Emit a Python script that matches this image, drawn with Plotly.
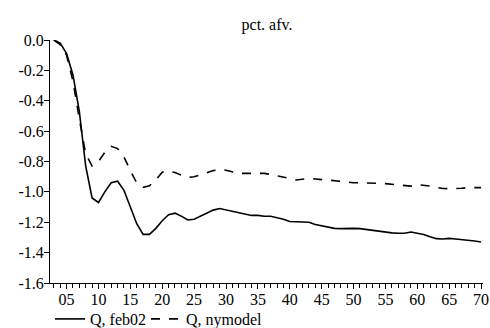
import plotly.graph_objects as go

periods = list(range(3, 71))
q_feb02 = [0.0, -0.02, -0.09, -0.23, -0.47, -0.83, -1.04, -1.07, -1.0, -0.94,
           -0.93, -0.99, -1.1, -1.21, -1.28, -1.28, -1.24, -1.19, -1.15, -1.14,
           -1.16, -1.185, -1.18, -1.16, -1.14, -1.12, -1.11, -1.12, -1.13, -1.14,
           -1.145, -1.155, -1.155, -1.16, -1.16, -1.17, -1.18, -1.195, -1.198, -1.198,
           -1.2, -1.215, -1.225, -1.232, -1.24, -1.242, -1.24, -1.24, -1.242, -1.248,
           -1.253, -1.262, -1.268, -1.27, -1.272, -1.272, -1.264, -1.272, -1.28, -1.295,
           -1.308, -1.31, -1.306, -1.31, -1.313, -1.318, -1.323, -1.33]
q_nymodel = [0.0, -0.03, -0.1, -0.27, -0.52, -0.75, -0.83, -0.8, -0.74, -0.70,
             -0.715, -0.77, -0.86, -0.94, -0.97, -0.96, -0.92, -0.87, -0.863, -0.873,
             -0.89, -0.905, -0.9, -0.89, -0.875, -0.86, -0.852, -0.858, -0.868, -0.878,
             -0.878, -0.878, -0.878, -0.878, -0.885, -0.893, -0.9, -0.912, -0.922, -0.915,
             -0.911, -0.915, -0.918, -0.922, -0.926, -0.93, -0.935, -0.94, -0.94, -0.94,
             -0.942, -0.944, -0.946, -0.95, -0.952, -0.958, -0.962, -0.952, -0.955, -0.962,
             -0.97, -0.978, -0.979, -0.979, -0.976, -0.972, -0.972, -0.972]
x_tickvals = [5, 10, 15, 20, 25, 30, 35, 40, 45, 50, 55, 60, 65, 70]
x_ticktext = ["05", "10", "15", "20", "25", "30", "35", "40", "45", "50", "55", "60", "65", "70"]
y_tickvals = [0.0, -0.2, -0.4, -0.6, -0.8, -1.0, -1.2, -1.4, -1.6]
y_ticktext = ["0.0", "-0.2", "-0.4", "-0.6", "-0.8", "-1.0", "-1.2", "-1.4", "-1.6"]

FAM = "Liberation Serif"
font = dict(family=FAM, size=16, color="#000")

fig = go.Figure()
fig.add_trace(go.Scatter(x=periods, y=q_feb02, mode="lines", name="Q, feb02",
                         line=dict(color="#000", width=1.6), cliponaxis=False,
                         legend="legend"))
fig.add_trace(go.Scatter(x=periods, y=q_nymodel, mode="lines", name="Q, nymodel",
                         line=dict(color="#000", width=1.6, dash="dash"), cliponaxis=False,
                         legend="legend2"))

plot_h = 328 - 40 - 45
leg_y = -(302 - 283) / plot_h
leg_common = dict(orientation="h", xanchor="left", y=leg_y, yanchor="top",
                  font=dict(family=FAM, size=16, color="#000"),
                  itemwidth=30, bgcolor="rgba(0,0,0,0)")
fig.update_layout(
    width=490, height=328,
    margin=dict(l=50, r=7, t=40, b=45, autoexpand=False),
    paper_bgcolor="white", plot_bgcolor="white",
    font=font,
    title=dict(text="pct. afv.", x=267/490, xanchor="center", y=1 - 24/328, yanchor="middle",
               font=dict(family=FAM, size=16, color="#000")),
    showlegend=True,
    legend=dict(x=0, **leg_common),
    legend2=dict(x=96 / 433, **leg_common),
)
fig.update_xaxes(range=[2.4, 70.3], showgrid=False, zeroline=False,
                 showline=True, linecolor="#000", linewidth=1,
                 tickmode="array", tickvals=x_tickvals, ticktext=x_ticktext,
                 ticks="outside", ticklen=5, tickcolor="#000", tickwidth=1,
                 ticklabelstandoff=-3,
                 minor=dict(dtick=1, tick0=0, ticks="outside", ticklen=4, tickcolor="#000", tickwidth=1),
                 tickfont=font)
fig.update_yaxes(range=[-1.6, 0.0], showgrid=False, zeroline=False,
                 showline=True, linecolor="#000", linewidth=1,
                 tickmode="array", tickvals=y_tickvals, ticktext=y_ticktext,
                 ticks="outside", ticklen=5, tickcolor="#000", tickwidth=1,
                 ticklabelstandoff=-3,
                 tickfont=font)

fig.write_html("out.html")
